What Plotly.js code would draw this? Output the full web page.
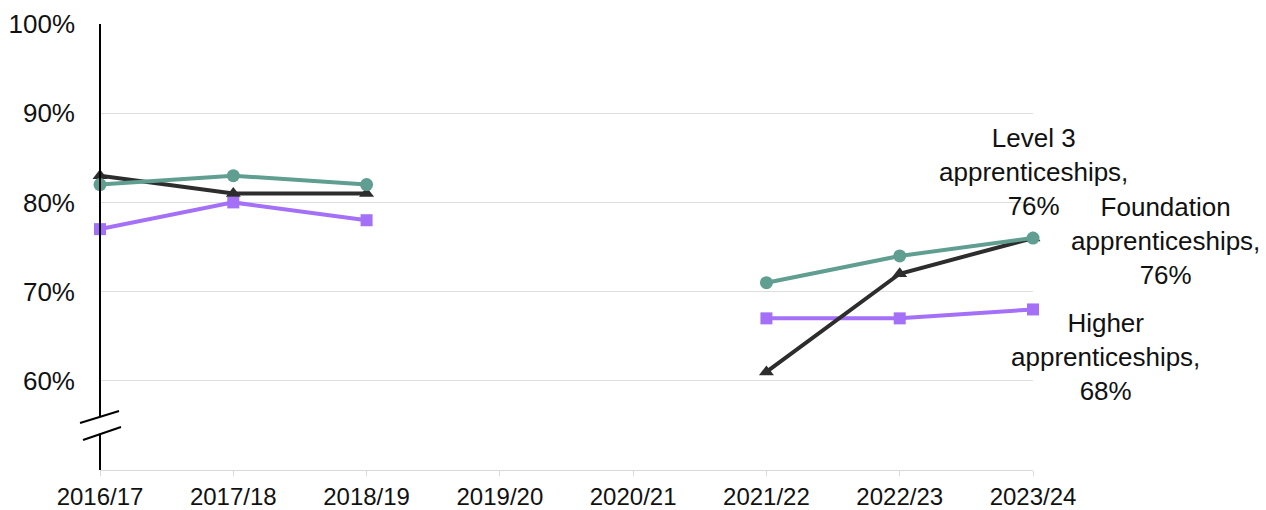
<!DOCTYPE html>
<html>
<head>
<meta charset="utf-8">
<script src="https://cdn.plot.ly/plotly-3.0.1.min.js"></script>
<style>html,body{margin:0;padding:0;background:#fff;}#chart{width:1266px;height:510px;}</style>
</head>
<body>
<div id="chart"></div>
<script>
const years = ["2016/17","2017/18","2018/19","2019/20","2020/21","2021/22","2022/23","2023/24"];
const level3 = [82, 83, 82, null, null, 71, 74, 76];
const foundation = [83, 81, 81, null, null, 61, 72, 76];
const higher = [77, 80, 78, null, null, 67, 67, 68];
const yTickVals = [60, 70, 80, 90, 100];
const yTickText = ["60%","70%","80%","90%","100%"];
const labelLevel3 = "Level 3<br>apprenticeships,<br>76%";
const labelFoundation = "Foundation<br>apprenticeships,<br>76%";
const labelHigher = "Higher<br>apprenticeships,<br>68%";

const font = "Liberation Sans, Arial, sans-serif";
const cTeal = "#5f9e90", cBlack = "#2d2d2d", cPurple = "#a370f7";

function tr(y, color, symbol, name, size) {
  return {x: years, y: y, type: "scatter", mode: "lines+markers", name: name,
    line: {color: color, width: 4}, marker: {color: color, symbol: symbol, size: size},
    connectgaps: false, cliponaxis: false, hoverinfo: "x+y"};
}

const data = [
  tr(higher, cPurple, "square", "Higher apprenticeships", 12),
  tr(foundation, cBlack, "triangle-up", "Foundation apprenticeships", 13),
  tr(level3, cTeal, "circle", "Level 3 apprenticeships", 13)
];

const last = years.length - 1;
const annFont = {family: font, size: 26, color: "#111"};
const layout = {
  width: 1266, height: 510,
  margin: {l: 100, r: 233, t: 24, b: 40},
  paper_bgcolor: "#fff", plot_bgcolor: "#fff",
  showlegend: false,
  font: {family: font, color: "#111", size: 24},
  xaxis: {type: "category", range: [0, 7], showgrid: false, zeroline: false,
    showline: true, linecolor: "#d9d9d9", linewidth: 1,
    ticks: "outside", ticklen: 5, tickcolor: "#d9d9d9",
    tickfont: {family: font, size: 24, color: "#111"}, fixedrange: true},
  yaxis: {range: [50, 100], tickvals: yTickVals, ticktext: yTickText,
    showgrid: true, gridcolor: "#dedede", gridwidth: 1, zeroline: false,
    showline: false, ticks: "", ticklabelstandoff: 24,
    tickfont: {family: font, size: 26, color: "#111"}, fixedrange: true},
  shapes: [
    {type: "line", xref: "paper", yref: "y", x0: 0, x1: 0, y0: 100, y1: 55.9, line: {color: "#000", width: 2}},
    {type: "line", xref: "paper", yref: "y", x0: 0, x1: 0, y0: 54.05, y1: 50, line: {color: "#000", width: 2}},
    {type: "line", xref: "paper", yref: "y", x0: -0.0214, x1: 0.0204, y0: 55.27, y1: 56.61, line: {color: "#000", width: 2}},
    {type: "line", xref: "paper", yref: "y", x0: -0.0182, x1: 0.0225, y0: 53.36, y1: 54.82, line: {color: "#000", width: 2}}
  ],
  annotations: [
    {x: years[last], y: level3[last], xref: "x", yref: "y", text: labelLevel3, showarrow: false,
      xanchor: "center", yanchor: "middle", yshift: 66, align: "center", font: annFont},
    {x: years[last], y: foundation[last], xref: "x", yref: "y", text: labelFoundation, showarrow: false,
      xanchor: "center", yanchor: "middle", xshift: 132, yshift: -3, align: "center", font: annFont},
    {x: years[last], y: higher[last], xref: "x", yref: "y", text: labelHigher, showarrow: false,
      xanchor: "center", yanchor: "middle", xshift: 72, yshift: -48, align: "center", font: annFont}
  ]
};

Plotly.newPlot("chart", data, layout, {displayModeBar: false, staticPlot: true});
</script>
</body>
</html>
